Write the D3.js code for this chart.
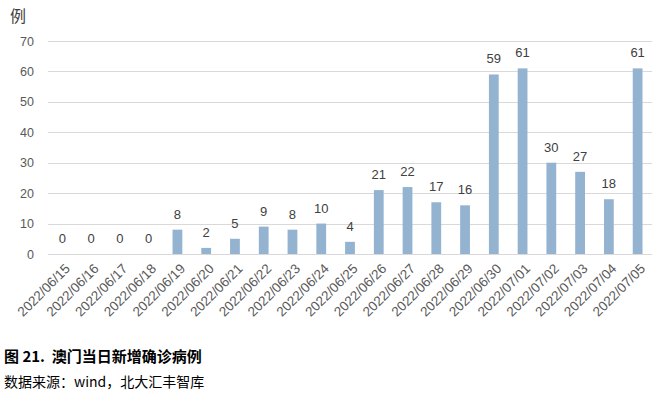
<!DOCTYPE html>
<html><head><meta charset="utf-8">
<script src="https://cdn.jsdelivr.net/npm/d3@7"></script>
<style>
body{margin:0;background:#fff;}
svg{display:block;}
</style></head>
<body>
<svg id="c" width="661" height="394"></svg>
<script>
const categories = ["2022/06/15","2022/06/16","2022/06/17","2022/06/18","2022/06/19","2022/06/20","2022/06/21","2022/06/22","2022/06/23","2022/06/24","2022/06/25","2022/06/26","2022/06/27","2022/06/28","2022/06/29","2022/06/30","2022/07/01","2022/07/02","2022/07/03","2022/07/04","2022/07/05"];
const values = [0,0,0,0,8,2,5,9,8,10,4,21,22,17,16,59,61,30,27,18,61];
const yTicks = [0,10,20,30,40,50,60,70];
const unitLabel = "例";
const title = "图 21.  澳门当日新增确诊病例";
const source = "数据来源：wind，北大汇丰智库";

(function(){
const svg = d3.select("#c");
const pl = 48, pr = 652, pt = 41, pb = 254;
const x = d3.scaleBand().domain(categories).range([pl, pr]).paddingInner(0.66).paddingOuter(0.33);
const y = d3.scaleLinear().domain([0,70]).range([pb, pt]);
const font = "'Liberation Sans', Arial, sans-serif";
const txt = "#595959";

svg.append("g").selectAll("line").data(yTicks).join("line")
  .attr("x1", pl).attr("x2", pr)
  .attr("y1", d => Math.round(y(d)) + 0.5).attr("y2", d => Math.round(y(d)) + 0.5)
  .attr("stroke", "#d9d9d9").attr("stroke-width", 1);

const yAxis = d3.axisLeft(y).tickValues(yTicks).tickSize(0).tickPadding(0);
const ya = svg.append("g").attr("transform", `translate(34,0)`).call(yAxis);
ya.select(".domain").remove();
ya.selectAll("text").attr("font-family", font).attr("font-size", 12.5).attr("fill", txt);

svg.append("g").selectAll("rect").data(values).join("rect")
  .attr("x", (d,i) => x(categories[i]))
  .attr("width", x.bandwidth())
  .attr("y", d => y(d))
  .attr("height", d => y(0) - y(d))
  .attr("fill", "#93b3d1");

svg.append("g").selectAll("text").data(values).join("text")
  .attr("x", (d,i) => x(categories[i]) + x.bandwidth()/2)
  .attr("y", d => y(d) - 11)
  .attr("text-anchor", "middle")
  .attr("font-family", font).attr("font-size", 13).attr("fill", "#404040")
  .text(d => d);

const xAxis = d3.axisBottom(x).tickSize(0).tickPadding(0);
const xa = svg.append("g").attr("transform", `translate(0,${pb})`).call(xAxis);
xa.select(".domain").remove();
xa.selectAll("text")
  .attr("font-family", font).attr("font-size", 13.5).attr("fill", txt)
  .attr("text-anchor", "end")
  .attr("dy", null).attr("y", 0)
  .attr("transform", `translate(6,13) rotate(-45)`)
  .attr("x", 0).attr("dx", 0).attr("dominant-baseline", "middle");

svg.append("text").attr("x", 10).attr("y", 22)
  .attr("font-family", "'Noto Sans CJK SC', sans-serif").attr("font-size", 16).attr("fill", "#404040")
  .text(unitLabel);

svg.append("text").attr("x", 4).attr("y", 362)
  .attr("font-family", "'Noto Sans CJK SC', sans-serif").attr("font-size", 15).attr("font-weight", "bold").attr("fill", "#000")
  .style("white-space","pre")
  .text(title);
svg.append("text").attr("x", 4).attr("y", 387)
  .attr("font-family", "'Noto Sans CJK SC', sans-serif").attr("font-size", 14).attr("fill", "#000")
  .text(source);
})();
</script>
</body></html>
